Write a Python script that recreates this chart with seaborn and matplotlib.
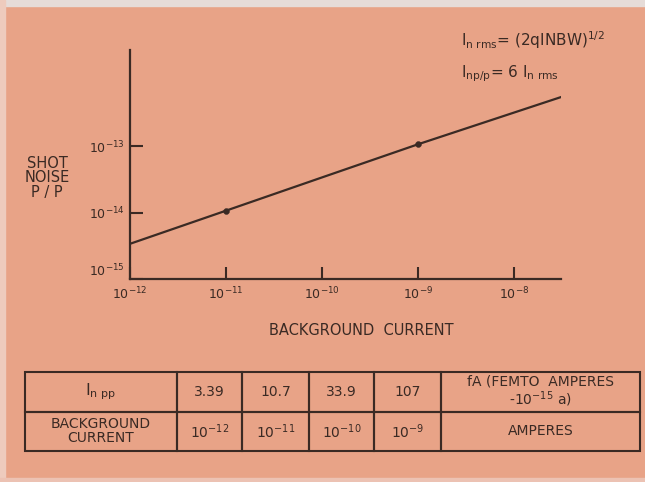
import pandas as pd
import seaborn as sns
import matplotlib.pyplot as plt
from matplotlib.patches import Rectangle

# table / chart values
current = [1e-12, 1e-11, 1e-10, 1e-9]
noise_pp = [3.39e-15, 10.7e-15, 33.9e-15, 107e-15]
noise_labels = ["3.39", "10.7", "33.9", "107"]
current_labels = [r"$10^{-12}$", r"$10^{-11}$", r"$10^{-10}$", r"$10^{-9}$"]
# line runs on past the table to the end of the axis
line_end_current = 3.2e-8
line_end_noise = 5.6e-13
# the two dots drawn on the line
dot_current = [1e-11, 1e-9]
dot_noise = [10.7e-15, 107e-15]

x_ticks = [1e-12, 1e-11, 1e-10, 1e-9, 1e-8]
y_ticks = [1e-15, 1e-14, 1e-13]

INK = "#3a2a24"
BG = "#e8a387"

sns.set_theme(style="ticks")
plt.rcParams["font.family"] = ["DejaVu Sans"]
plt.rcParams["text.color"] = INK
plt.rcParams["axes.labelcolor"] = INK
plt.rcParams["xtick.color"] = INK
plt.rcParams["ytick.color"] = INK


def main():
    fig = plt.figure(figsize=(6.45, 4.82), dpi=100)
    fig.patch.set_facecolor(BG)
    # scanned page edges
    fig.patches.append(Rectangle((0, 1 - 6 / 482), 1, 6 / 482, transform=fig.transFigure,
                                 color="#e6dcd8", zorder=0))
    fig.patches.append(Rectangle((0, 0), 5 / 645, 1, transform=fig.transFigure,
                                 color="#eecbbd", zorder=0))
    fig.patches.append(Rectangle((0, 0), 1, 4 / 482, transform=fig.transFigure,
                                 color="#ecc2b3", zorder=0))

    ax = fig.add_axes([130 / 645, 203 / 482, 431 / 645, 229 / 482])
    ax.set_facecolor("none")

    line_df = pd.DataFrame({"current": current + [line_end_current],
                            "noise": noise_pp + [line_end_noise]})
    dot_df = pd.DataFrame({"current": dot_current, "noise": dot_noise})

    sns.lineplot(data=line_df, x="current", y="noise", color=INK, lw=1.6, ax=ax)
    sns.scatterplot(data=dot_df, x="current", y="noise", color=INK, s=18,
                    edgecolor=INK, zorder=3, ax=ax)

    ax.set_xscale("log")
    ax.set_yscale("log")
    ax.set_xlim(1e-12, 10 ** -7.51)
    ax.set_ylim(1e-15, 10 ** -11.55)
    ax.set_xticks(x_ticks)
    ax.set_yticks(y_ticks)
    ax.minorticks_off()

    sns.despine(ax=ax)
    for side in ["left", "bottom"]:
        ax.spines[side].set_color(INK)
        ax.spines[side].set_linewidth(1.6)
    ax.tick_params(direction="in", length=9, width=1.5, labelsize=9)
    ax.tick_params(axis="x", pad=5)
    ax.tick_params(axis="y", pad=4)
    ax.get_yticklabels()[0].set_va("bottom")

    ax.set_xlabel("BACKGROUND  CURRENT", fontsize=10.5)
    ax.xaxis.set_label_coords(0.536, -0.19)
    ax.set_ylabel("")
    fig.text(47 / 645, 1 - 178 / 482, "SHOT\nNOISE\nP / P", ha="center", va="center",
             fontsize=10.5, linespacing=1.0)

    fig.text(461 / 645, 1 - 40 / 482,
             r"$\mathrm{I}_{\mathrm{n\ rms}}$= (2qINBW)$^{1/2}$",
             fontsize=11, va="center")
    fig.text(461 / 645, 1 - 74 / 482,
             r"$\mathrm{I}_{\mathrm{np/p}}$= 6 $\mathrm{I}_{\mathrm{n\ rms}}$",
             fontsize=11, va="center")

    # table under the chart
    ax_t = fig.add_axes([25 / 645, 31 / 482, 615 / 645, 79 / 482])
    ax_t.axis("off")
    rows = [[r"$\mathrm{I}_{\mathrm{n\ pp}}$"] + noise_labels
            + ["fA (FEMTO  AMPERES\n" + r"-10$^{-15}$ a)"],
            ["BACKGROUND\nCURRENT"] + current_labels + ["AMPERES"]]
    widths = [152, 65, 67, 65, 67, 199]
    tbl = ax_t.table(cellText=rows, cellLoc="center",
                     colWidths=[w / sum(widths) for w in widths], bbox=[0, 0, 1, 1])
    tbl.auto_set_font_size(False)
    tbl.set_fontsize(10)
    for (r, c), cell in tbl.get_celld().items():
        cell.set_facecolor("none")
        cell.set_edgecolor(INK)
        cell.set_linewidth(1.5)
        cell.get_text().set_color(INK)
        cell.get_text().set_linespacing(1.0)
        if c == 0 and r == 0:
            cell.get_text().set_fontsize(11.5)

    plt.savefig("out.png", dpi=100, facecolor=fig.get_facecolor())


if __name__ == "__main__":
    main()
